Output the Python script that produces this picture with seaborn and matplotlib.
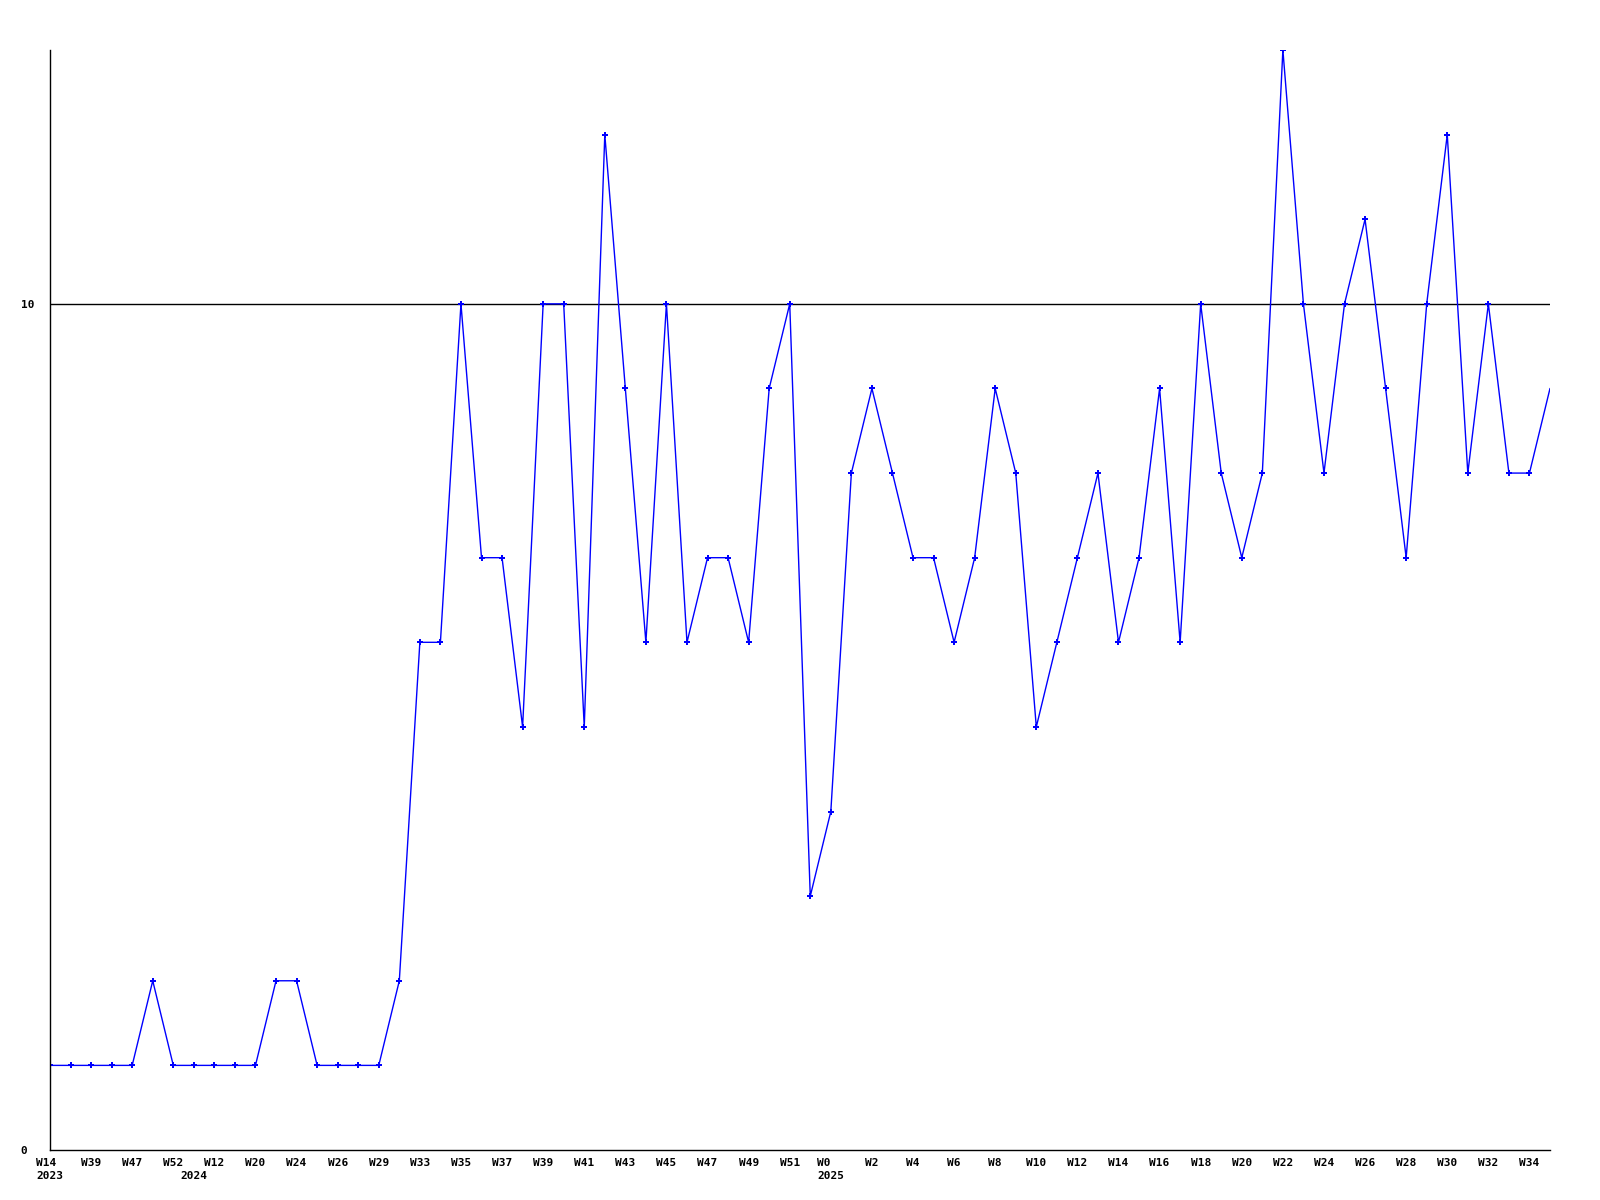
import matplotlib
matplotlib.use("Agg")
import matplotlib.pyplot as plt
import seaborn as sns
import pandas as pd

# weekly counts, one value per week in chart order
counts = [1, 1, 1, 1, 1, 2, 1, 1, 1, 1,
          1, 2, 2, 1, 1, 1, 1, 2, 6, 6,
          10, 7, 7, 5, 10, 10, 5, 12, 9, 6,
          10, 6, 7, 7, 6, 9, 10, 3, 4, 8,
          9, 8, 7, 7, 6, 7, 9, 8, 5, 6,
          7, 8, 6, 7, 9, 6, 10, 8, 7, 8,
          13, 10, 8, 10, 11, 9, 7, 10, 12, 8,
          10, 8, 8, 9]

# labels shown on every other week
week_labels = ["W14", "W39", "W47", "W52", "W12", "W20", "W24", "W26", "W29", "W33",
               "W35", "W37", "W39", "W41", "W43", "W45", "W47", "W49", "W51", "W0",
               "W2", "W4", "W6", "W8", "W10", "W12", "W14", "W16", "W18", "W20",
               "W22", "W24", "W26", "W28", "W30", "W32", "W34"]

# first week of each year (index into counts)
year_starts = {0: "2023", 7: "2024", 38: "2025"}

df = pd.DataFrame({"idx": range(len(counts)), "count": counts})

sns.set_style("white")
plt.rcParams["font.family"] = ["DejaVu Sans Mono", "DejaVu Sans"]

fig = plt.figure(figsize=(16, 12), dpi=100)
ax = fig.add_axes([50 / 1600, 50 / 1200, 1500 / 1600, 1100 / 1200])

sns.lineplot(data=df, x="idx", y="count", ax=ax, color="#0000ff", linewidth=1,
             marker="P", markersize=5, markeredgewidth=0,
             markevery=slice(0, len(counts) - 1))

ax.axhline(10, color="black", linewidth=1, zorder=1)

ax.set_xlim(0, len(counts) - 1)
ax.set_ylim(0, 13)

# x tick labels: week on even positions, year underneath at year start
labels = []
for i in range(len(counts)):
    txt = week_labels[i // 2] if i % 2 == 0 else ""
    if i in year_starts:
        txt = txt + "\n" + year_starts[i]
    labels.append(txt)
ax.set_xticks(range(len(counts)))
ax.set_xticklabels(labels, fontsize=8, fontweight="bold", multialignment="left",
                   linespacing=1.3, color="black")

ax.set_yticks([0, 10])
ax.set_yticklabels(["0", "10"], fontsize=8, fontweight="bold", color="black")
for t in ax.get_yticklabels():
    t.set_horizontalalignment("left")

ax.tick_params(axis="x", length=0, pad=6)
ax.tick_params(axis="y", length=0, pad=21)

for side in ["top", "right"]:
    ax.spines[side].set_visible(False)
for side in ["left", "bottom"]:
    ax.spines[side].set_color("black")
    ax.spines[side].set_linewidth(1)

ax.set_xlabel("")
ax.set_ylabel("")

fig.savefig("out.png", dpi=100)
